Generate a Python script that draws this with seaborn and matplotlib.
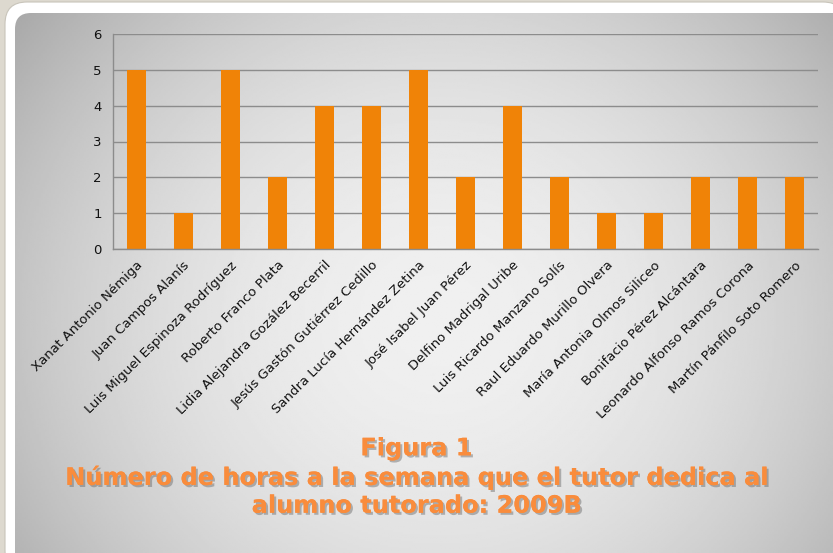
import numpy as np
import pandas as pd
import seaborn as sns
import matplotlib
matplotlib.use('Agg')
import matplotlib.pyplot as plt
import matplotlib.patheffects as pe
from matplotlib.patches import FancyBboxPatch

# datos
tutores = ['Xanat Antonio Némiga', 'Juan Campos Alanís', 'Luis Miguel Espinoza Rodríguez',
           'Roberto Franco Plata', 'Lidia Alejandra Gozález Becerril', 'Jesús Gastón Gutiérrez Cedillo',
           'Sandra Lucía Hernández Zetina', 'José Isabel Juan Pérez', 'Delfino Madrigal Uribe',
           'Luis Ricardo Manzano Solís', 'Raul Eduardo Murillo Olvera', 'María Antonia Olmos Siliceo',
           'Bonifacio Pérez Alcántara', 'Leonardo Alfonso Ramos Corona', 'Martín Pánfilo Soto Romero']
horas = [5, 1, 5, 2, 4, 4, 5, 2, 4, 2, 1, 1, 2, 2, 2]
yticks = [0, 1, 2, 3, 4, 5, 6]
titulo = 'Figura 1\nNúmero de horas a la semana que el tutor dedica al\nalumno tutorado: 2009B'

df = pd.DataFrame({'tutor': tutores, 'horas': horas})

sns.set_style('white')
plt.rcParams['font.family'] = ['DejaVu Sans']

fig = plt.figure(figsize=(8.33, 5.53), dpi=100)
fig.patch.set_facecolor('#ddd9cf')

# fondo: marco blanco redondeado + panel gris con gradiente radial
bg = fig.add_axes([0, 0, 1, 1])
bg.axis('off')
frame = FancyBboxPatch((5, 2), 840, 570, boxstyle='round,pad=0,rounding_size=22',
                       facecolor='white', edgecolor='#c8c4ba', lw=0.8, zorder=1)
bg.add_patch(frame)
xx, yy = np.meshgrid(np.linspace(0, 833, 400), np.linspace(0, 553, 300))
d2 = ((xx - 440) / 520) ** 2 + ((yy - 320) / 480) ** 2
shade = np.clip(0.94 - 0.26 * d2, 0.63, 0.95)
img = bg.imshow(shade, cmap='gray', vmin=0, vmax=1, extent=(0, 833, 553, 0),
                aspect='auto', zorder=2)
panel = FancyBboxPatch((15, 13), 840, 570, boxstyle='round,pad=0,rounding_size=16',
                       facecolor='none', edgecolor='none', transform=bg.transData)
bg.add_patch(panel)
img.set_clip_path(panel)
bg.set_xlim(0, 833)
bg.set_ylim(553, 0)

ax = fig.add_axes([113 / 833, 1 - 249 / 553, (818 - 113) / 833, (249 - 34) / 553])
ax.patch.set_alpha(0)
sns.barplot(data=df, x='tutor', y='horas', color='#f08307', saturation=1, width=0.4,
            linewidth=0, ax=ax)

ax.set_xlim(-0.5, len(tutores) - 0.5)
ax.set_ylim(0, 6)
ax.set_yticks(yticks)
ax.yaxis.grid(True, color='#8c8c8c', lw=1)
ax.set_axisbelow(True)
ax.set_xlabel('')
ax.set_ylabel('')
for s in ['top', 'right']:
    ax.spines[s].set_visible(False)
for s in ['left', 'bottom']:
    ax.spines[s].set_color('#8c8c8c')
    ax.spines[s].set_linewidth(1)
ax.tick_params(axis='y', length=4, color='#8c8c8c', labelsize=9.5, labelcolor='#111111', pad=4)
ax.set_xticks(range(len(tutores)))
ax.set_xticklabels(tutores, rotation=45, ha='right', rotation_mode='anchor', fontsize=9.5, color='#111111')
ax.tick_params(axis='x', which='major', length=0, pad=7)
ax.set_xticks(np.arange(-0.5, len(tutores), 1), minor=True)
ax.tick_params(axis='x', which='minor', length=4, color='#8c8c8c')

fig.text(0.5, 1 - 477 / 553, titulo, ha='center', va='center', fontsize=17.3, fontweight='bold',
         color='#f98c3c', linespacing=1.2,
         path_effects=[pe.withSimplePatchShadow(offset=(1.5, -1.5), shadow_rgbFace='#666666', alpha=0.45),
                       pe.Normal()])

fig.savefig('out.png', dpi=100, facecolor=fig.get_facecolor())
